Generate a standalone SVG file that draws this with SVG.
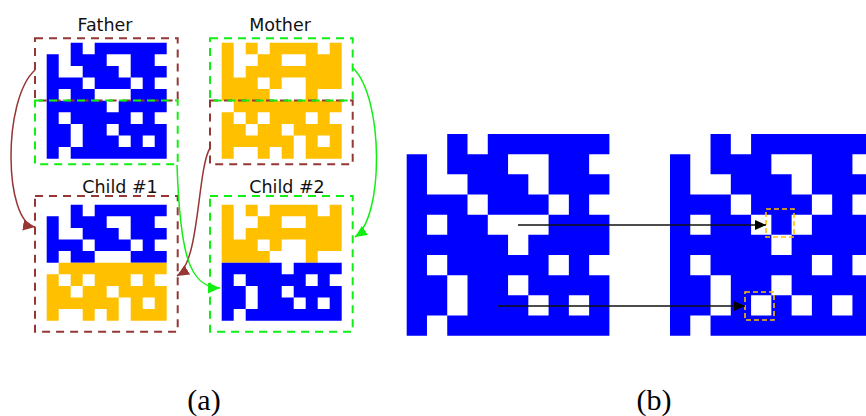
<svg xmlns="http://www.w3.org/2000/svg" xmlns:xlink="http://www.w3.org/1999/xlink" width="866" height="416" viewBox="0 0 866 416">
<style>
.lbl{font-family:"DejaVu Sans","Liberation Sans",sans-serif;font-size:17.5px;fill:#111;text-anchor:middle}
.cap{font-family:"Liberation Serif","Times New Roman",serif;font-size:30px;fill:#000;text-anchor:middle}
.bb{fill:none;stroke:#953735;stroke-width:2;stroke-dasharray:8 6}
.gb{fill:none;stroke:#11ee11;stroke-width:2;stroke-dasharray:8 6}
.blue{fill:#0000ff}
.orange{fill:#ffc000}
.ob{fill:none;stroke:#ffc000;stroke-width:1.6;stroke-dasharray:5 3}
</style>
<defs>
<path id="fT" d="M2 0h1v1h-1z M4 0h6v1h-6z M0 1h1v1h-1z M2 1h3v1h-3z M7 1h2v1h-2z M0 2h1v1h-1z M3 2h3v1h-3z M7 2h3v1h-3z M0 3h3v1h-3z M4 3h3v1h-3z M8 3h1v1h-1z M0 4h1v1h-1z M2 4h2v1h-2z M7 4h3v1h-3z"/>
<path id="fB" d="M0 5h5v1h-5z M6 5h4v1h-4z M0 6h1v1h-1z M2 6h5v1h-5z M8 6h1v1h-1z M0 7h2v1h-2z M3 7h2v1h-2z M6 7h4v1h-4z M0 8h2v1h-2z M3 8h3v1h-3z M7 8h1v1h-1z M9 8h1v1h-1z M0 9h1v1h-1z M2 9h8v1h-8z"/>
<path id="fAll" d="M2 0h1v1h-1z M4 0h6v1h-6z M0 1h1v1h-1z M2 1h3v1h-3z M7 1h2v1h-2z M0 2h1v1h-1z M3 2h3v1h-3z M7 2h3v1h-3z M0 3h3v1h-3z M4 3h3v1h-3z M8 3h1v1h-1z M0 4h1v1h-1z M2 4h2v1h-2z M7 4h3v1h-3z M0 5h5v1h-5z M6 5h4v1h-4z M0 6h1v1h-1z M2 6h5v1h-5z M8 6h1v1h-1z M0 7h2v1h-2z M3 7h2v1h-2z M6 7h4v1h-4z M0 8h2v1h-2z M3 8h3v1h-3z M7 8h1v1h-1z M9 8h1v1h-1z M0 9h1v1h-1z M2 9h8v1h-8z"/>
<path id="mT" d="M0 0h1v1h-1z M2 0h1v1h-1z M4 0h4v1h-4z M9 0h1v1h-1z M0 1h1v1h-1z M3 1h2v1h-2z M7 1h3v1h-3z M0 2h1v1h-1z M2 2h8v1h-8z M0 3h3v1h-3z M4 3h1v1h-1z M7 3h3v1h-3z M0 4h4v1h-4z M7 4h1v1h-1z"/>
<path id="mB" d="M1 5h9v1h-9z M0 6h1v1h-1z M2 6h1v1h-1z M4 6h3v1h-3z M8 6h1v1h-1z M0 7h2v1h-2z M3 7h2v1h-2z M6 7h4v1h-4z M0 8h6v1h-6z M7 8h1v1h-1z M9 8h1v1h-1z M0 9h1v1h-1z M3 9h1v1h-1z M5 9h1v1h-1z M7 9h3v1h-3z"/>
<path id="mAll" d="M0 0h1v1h-1z M2 0h1v1h-1z M4 0h4v1h-4z M9 0h1v1h-1z M0 1h1v1h-1z M3 1h2v1h-2z M7 1h3v1h-3z M0 2h1v1h-1z M2 2h8v1h-8z M0 3h3v1h-3z M4 3h1v1h-1z M7 3h3v1h-3z M0 4h4v1h-4z M7 4h1v1h-1z M1 5h9v1h-9z M0 6h1v1h-1z M2 6h1v1h-1z M4 6h3v1h-3z M8 6h1v1h-1z M0 7h2v1h-2z M3 7h2v1h-2z M6 7h4v1h-4z M0 8h6v1h-6z M7 8h1v1h-1z M9 8h1v1h-1z M0 9h1v1h-1z M3 9h1v1h-1z M5 9h1v1h-1z M7 9h3v1h-3z"/>
<path id="mut" d="M2 0h1v1h-1z M4 0h6v1h-6z M0 1h1v1h-1z M2 1h3v1h-3z M7 1h2v1h-2z M0 2h1v1h-1z M3 2h3v1h-3z M7 2h3v1h-3z M0 3h3v1h-3z M4 3h3v1h-3z M8 3h1v1h-1z M0 4h1v1h-1z M2 4h2v1h-2z M5 4h1v1h-1z M7 4h3v1h-3z M0 5h5v1h-5z M6 5h4v1h-4z M0 6h1v1h-1z M2 6h5v1h-5z M8 6h1v1h-1z M0 7h2v1h-2z M3 7h2v1h-2z M6 7h4v1h-4z M0 8h2v1h-2z M3 8h1v1h-1z M5 8h1v1h-1z M7 8h1v1h-1z M9 8h1v1h-1z M0 9h1v1h-1z M2 9h8v1h-8z"/>
<marker id="aBr" viewBox="0 0 12 11" refX="12" refY="5.5" markerWidth="12" markerHeight="11" markerUnits="userSpaceOnUse" orient="auto"><path d="M0,0 L12,5.5 L0,11 z" fill="#953735"/></marker>
<marker id="aGr" viewBox="0 0 12 11" refX="12" refY="5.5" markerWidth="12" markerHeight="11" markerUnits="userSpaceOnUse" orient="auto"><path d="M0,0 L12,5.5 L0,11 z" fill="#11ee11"/></marker>
<marker id="aBk" viewBox="0 0 11 10" refX="11" refY="5" markerWidth="11" markerHeight="10" markerUnits="userSpaceOnUse" orient="auto"><path d="M0,0 L11,5 L0,10 z" fill="#000"/></marker>
</defs>
<rect width="866" height="416" fill="#fff"/>

<g id="father">
<text class="lbl" x="105" y="31">Father</text>
<use xlink:href="#fAll" href="#fAll" class="blue" transform="translate(46.7,42.7) scale(12,11.6)"/>
<rect class="bb" x="35" y="38.3" width="142.7" height="62.2"/>
<rect class="gb" x="35" y="100.5" width="142.7" height="63.8"/>
</g>

<g id="mother">
<text class="lbl" x="280" y="31">Mother</text>
<use xlink:href="#mAll" href="#mAll" class="orange" transform="translate(221.7,42.7) scale(12,11.6)"/>
<rect class="bb" x="210" y="100.5" width="142.7" height="63.8"/>
<rect class="gb" x="210" y="38.3" width="142.7" height="62.2"/>
</g>

<g id="child1">
<text class="lbl" x="120" y="193">Child #1</text>
<g transform="translate(46.7,204.7) scale(12,11.6)">
<use xlink:href="#fT" href="#fT" class="blue"/>
<use xlink:href="#mB" href="#mB" class="orange"/>
</g>
<rect class="bb" x="35" y="196" width="142.7" height="135.7"/>
</g>

<g id="child2">
<text class="lbl" x="287" y="193">Child #2</text>
<g transform="translate(221.7,204.7) scale(12,11.6)">
<use xlink:href="#mT" href="#mT" class="orange"/>
<use xlink:href="#fB" href="#fB" class="blue"/>
</g>
<rect class="gb" x="210" y="196" width="142.7" height="135.7"/>
</g>

<g id="grid-original">
<use xlink:href="#fAll" href="#fAll" class="blue" transform="translate(406.7,134) scale(20.27,20.17)"/>
</g>

<g id="grid-mutated">
<use xlink:href="#mut" href="#mut" class="blue" transform="translate(670,134) scale(20.27,20.17)"/>
<rect class="ob" x="766" y="209" width="28" height="28"/>
<rect class="ob" x="745" y="292" width="29" height="28"/>
</g>

<g id="connectors" fill="none" stroke-width="1.5">
<path d="M35,70 C2,100 4,222 35,227" stroke="#953735" marker-end="url(#aBr)"/>
<path d="M353,68 C384,98 384,218 355,237" stroke="#11ee11" marker-end="url(#aGr)"/>
<path d="M210,148 C197,170 200,262 177,276" stroke="#953735" marker-end="url(#aBr)"/>
<path d="M177,165 C180,250 188,288 220,288" stroke="#11ee11" marker-end="url(#aGr)"/>
<path d="M518,225 H766" stroke="#111" stroke-width="1.3" marker-end="url(#aBk)"/>
<path d="M498,306 H745" stroke="#111" stroke-width="1.3" marker-end="url(#aBk)"/>
</g>

<text class="cap" x="204" y="410">(a)</text>
<text class="cap" x="654" y="410">(b)</text>
</svg>
